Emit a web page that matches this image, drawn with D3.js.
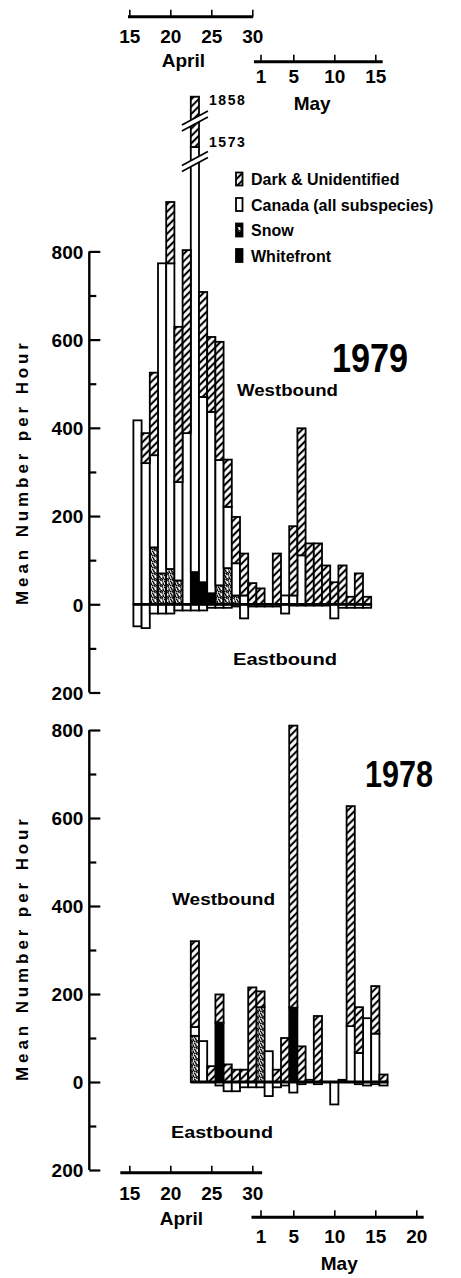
<!DOCTYPE html>
<html>
<head>
<meta charset="utf-8">
<script src="https://cdn.jsdelivr.net/npm/d3@7"></script>
<style>
  html, body { margin: 0; padding: 0; background: #fff; }
  svg { display: block; }
  text { font-family: "Liberation Sans", Arial, sans-serif; font-weight: bold; fill: #000; }
</style>
</head>
<body>
<svg id="chart" width="461" height="1278"></svg>
<script>
// Day index: 0 = 15 April, 16 = 1 May
const days = [1,2,3,4,5,6,7,8,9,10,11,12,13,14,15,16,17,18,19,20,21,22,23,24,25,26,27,28,29,30,31];

// 1979, westbound mean numbers per hour by species group
const whitefront79 = [0,0,0,0,0,0,0,73,50,25,0,0,0,0,0,0,0,0,0,0,0,0,0,0,0,0,0,0,0,0,0];
const snow79       = [0,0,129,70,80,54,0,0,0,0,43,82,20,0,0,0,0,0,0,0,0,0,0,0,0,0,0,0,0,0,0];
const canada79     = [417,320,209,703,693,223,388,1500,420,411,284,139,73,20,0,0,0,0,20,20,111,0,0,0,0,0,0,0,0,0,0];
const dark79       = [0,68,187,0,139,352,415,285,238,170,268,107,105,95,48,36,0,115,0,157,288,138,138,88,50,88,17,70,17,0,0];
// 1979, eastbound (plotted below zero)
const east79       = [-50,-54,-21,-21,-21,-14,-14,-14,-14,-8,-8,-8,-5,-32,-5,-5,-5,-5,-21,-3,-3,-3,-3,-3,-32,-8,-8,-8,-8,0,0];

// 1978, westbound
const whitefront78 = [0,0,0,0,0,0,0,0,0,0,135,0,0,0,0,0,0,0,0,169,0,0,0,0,0,5,0,0,0,0,0];
const snow78       = [0,0,0,0,0,0,0,105,0,0,0,0,0,0,0,170,0,0,0,0,0,0,0,0,0,0,0,0,0,0,0];
const canada78     = [0,0,0,0,0,0,0,20,93,0,0,0,0,0,0,0,70,0,0,0,0,0,0,0,0,0,127,66,145,110,0];
const dark78       = [0,0,0,0,0,0,0,195,0,36,64,40,28,28,215,36,0,28,100,641,81,5,150,0,0,0,500,104,0,108,17];
// 1978, eastbound
const east78       = [0,0,0,0,0,0,0,0,0,0,-8,-21,-21,-12,-12,-12,-32,-12,-8,-24,-5,0,-5,0,-51,0,0,-5,-8,-5,-8];

// Axis ticks
const aprilTicks = [0,5,10,15];
const aprilTickLabels = ["15","20","25","30"];
const mayTicks79 = [16,20,25,30];
const mayTickLabels79 = ["1","5","10","15"];
const mayTicks78 = [16,20,25,30,35];
const mayTickLabels78 = ["1","5","10","15","20"];
const yMajor = [800,600,400,200,0,-200];
const yMajorLabels = ["800","600","400","200","0","200"];
const yMinor = [700,500,300,100,-100];

// Legend
const legendKeys = ["dark","canada","snow","whitefront"];
const legendLabels = ["Dark & Unidentified","Canada (all subspecies)","Snow","Whitefront"];

// Off-scale day in 1979
const peakTotal79 = 1858;
const peakCanada79 = 1573;

const svg = d3.select("#chart");
const defs = svg.append("defs");

const hatch = defs.append("pattern")
  .attr("id", "hatch").attr("patternUnits", "userSpaceOnUse")
  .attr("width", 5.2).attr("height", 5.2)
  .attr("patternTransform", "rotate(45)");
hatch.append("rect").attr("width", 5.2).attr("height", 5.2).attr("fill", "#fff");
hatch.append("line").attr("x1", 2.6).attr("x2", 2.6).attr("y1", 0).attr("y2", 5.2)
  .attr("stroke", "#000").attr("stroke-width", 2.1);

const stipple = defs.append("pattern")
  .attr("id", "stipple").attr("patternUnits", "userSpaceOnUse")
  .attr("width", 6).attr("height", 6);
stipple.append("rect").attr("width", 6).attr("height", 6).attr("fill", "#fff");
[[1,1],[4,1.5],[2.5,3.5],[5,4.5],[0.5,5],[3.5,0.3],[1.5,2.2],[5.3,2.8],[2.8,5.4],[4.2,3.2],[0.3,3.3]].forEach(([cx, cy]) =>
  stipple.append("circle").attr("cx", cx).attr("cy", cy).attr("r", 0.85).attr("fill", "#000"));

const fills = { whitefront: "#000", snow: "url(#stipple)", canada: "#fff", dark: "url(#hatch)" };
const stackKeys = ["whitefront","snow","canada","dark"];

const x = d3.scaleLinear().domain([0, 35]).range([129.3, 416.3]);
const bw = x(1) - x(0);

// 1979 scale has two breaks above 980 to fit the off-scale day
const y79 = d3.scaleLinear()
  .domain([-200, 980, 1545, 1573, 1605, 1835, peakTotal79])
  .range([692.5, 172, 151, 147, 131, 111, 96.7]);
const y78 = d3.scaleLinear().domain([-200, 800]).range([1170, 730]);

function rows(wf, sn, ca, dk, ea) {
  return days.map((d, i) => ({ day: d, whitefront: wf[i], snow: sn[i], canada: ca[i], dark: dk[i], east: ea[i] }));
}

function drawPanel(y, data) {
  const g = svg.append("g");
  // eastbound
  g.selectAll("rect.east").data(data.filter(r => r.east < 0)).join("rect")
    .attr("class", "east")
    .attr("x", r => x(r.day - 0.5)).attr("width", bw)
    .attr("y", y(0)).attr("height", r => y(r.east) - y(0))
    .attr("fill", "#fff").attr("stroke", "#000").attr("stroke-width", 1.8);
  // westbound stacked
  const series = d3.stack().keys(stackKeys)(data);
  series.forEach(s => {
    g.selectAll(null).data(s.filter(p => p[1] > p[0])).join("rect")
      .attr("x", p => x(p.data.day - 0.5)).attr("width", bw)
      .attr("y", p => y(p[1])).attr("height", p => y(p[0]) - y(p[1]))
      .attr("fill", fills[s.key]).attr("stroke", "#000").attr("stroke-width", 1.8);
  });
  // baseline
  const active = data.filter(r => r.whitefront + r.snow + r.canada + r.dark + Math.abs(r.east) > 0);
  g.append("line")
    .attr("x1", x(d3.min(active, r => r.day) - 0.5)).attr("x2", x(d3.max(active, r => r.day) + 0.5))
    .attr("y1", y(0)).attr("y2", y(0))
    .attr("stroke", "#000").attr("stroke-width", 2.8);
  return g;
}

function drawYAxis(y, axisX, titleY) {
  const g = svg.append("g").attr("transform", `translate(${axisX},0)`);
  g.append("line").attr("x1", 0).attr("x2", 0).attr("y1", y(800)).attr("y2", y(-200))
    .attr("stroke", "#000").attr("stroke-width", 2.4);
  const major = g.append("g").call(d3.axisLeft(y).tickValues(yMajor).tickSize(-11).tickPadding(6)
    .tickFormat((d, i) => yMajorLabels[i]));
  major.select(".domain").remove();
  major.selectAll(".tick line").attr("stroke-width", 2.2);
  major.selectAll(".tick text").attr("font-size", 19).attr("font-family", "DejaVu Sans, sans-serif")
    .attr("dy", "0.36em");
  const minor = g.append("g").call(d3.axisLeft(y).tickValues(yMinor).tickSize(-7).tickFormat(""));
  minor.select(".domain").remove();
  minor.selectAll(".tick line").attr("stroke-width", 2.2);
  svg.append("text")
    .attr("transform", `translate(28,${titleY}) rotate(-90)`)
    .attr("text-anchor", "middle").attr("font-size", 17)
    .attr("textLength", 262).attr("lengthAdjust", "spacing")
    .text("Mean Number per Hour");
}

function drawDateAxis(lineY, d0, d1, ticks, labels, monthName, monthX, labelY, monthY) {
  const g = svg.append("g").attr("transform", `translate(0,${lineY})`);
  g.append("line").attr("x1", x(d0)).attr("x2", x(d1)).attr("y1", 0).attr("y2", 0)
    .attr("stroke", "#000").attr("stroke-width", 3);
  const ax = g.append("g").call(d3.axisBottom(x).tickValues(ticks).tickSize(-7).tickPadding(labelY)
    .tickFormat((d, i) => labels[i]));
  ax.select(".domain").remove();
  ax.selectAll(".tick line").attr("stroke-width", 1.6);
  ax.selectAll(".tick text").attr("font-size", 19).attr("font-family", null).attr("dy", 0)
    .attr("dominant-baseline", "alphabetic");
  g.append("text").attr("x", monthX).attr("y", monthY).attr("text-anchor", "middle")
    .attr("font-size", 19).text(monthName);
}

// ---------- 1979 ----------
drawDateAxis(16.7, -0.16, 15.1, aprilTicks, aprilTickLabels, "April", x(6.6), 26, 50);
drawDateAxis(61.7, 15.2, 30.9, mayTicks79, mayTickLabels79, "May", x(22.3), 21.5, 48);

drawPanel(y79, rows(whitefront79, snow79, canada79, dark79, east79));

// breaks on the off-scale bar
const peakDay = days[canada79.indexOf(d3.max(canada79))];
[1720, 1262].forEach(v => {
  const cx = x(peakDay), cy = y79(v);
  const gap = 3;
  svg.append("polygon")
    .attr("points", [[cx - 13, cy + 7 - gap], [cx + 13, cy - 7 - gap], [cx + 13, cy - 7 + gap], [cx - 13, cy + 7 + gap]].join(" "))
    .attr("fill", "#fff");
  [-gap, gap].forEach(o => svg.append("line")
    .attr("x1", cx - 13).attr("y1", cy + 7 + o).attr("x2", cx + 13).attr("y2", cy - 7 + o)
    .attr("stroke", "#000").attr("stroke-width", 1.8));
});
svg.append("text").attr("x", x(peakDay) + 14).attr("y", y79(peakTotal79) + 8)
  .attr("font-size", 14).attr("font-weight", "normal").attr("textLength", 36).text(String(peakTotal79));
svg.append("text").attr("x", x(peakDay) + 14).attr("y", y79(peakCanada79))
  .attr("font-size", 14).attr("font-weight", "normal").attr("textLength", 36).text(String(peakCanada79));

drawYAxis(y79, 89.3, 474);

// legend
const lg = svg.append("g");
legendKeys.forEach((k, i) => {
  const cy = 179 + i * 25.5;
  lg.append("rect").attr("x", 236).attr("y", cy - 6.5).attr("width", 6.5).attr("height", 13)
    .attr("fill", k === "snow" ? "#000" : fills[k]).attr("stroke", "#000").attr("stroke-width", 1.8);
  if (k === "snow") {
    lg.append("rect").attr("x", 237.8).attr("y", cy - 3).attr("width", 3).attr("height", 5).attr("fill", "url(#stipple)");
  }
  lg.append("text").attr("x", 251).attr("y", cy + 6).attr("font-size", 16).text(legendLabels[i]);
});

svg.append("text").attr("x", 332).attr("y", 372).attr("font-size", 40).attr("font-weight", "normal")
  .attr("textLength", 76).attr("lengthAdjust", "spacingAndGlyphs").text("1979");
svg.append("text").attr("x", 237).attr("y", 396).attr("font-size", 17)
  .attr("textLength", 101).attr("lengthAdjust", "spacingAndGlyphs").text("Westbound");
svg.append("text").attr("x", 233).attr("y", 665).attr("font-size", 17)
  .attr("textLength", 104).attr("lengthAdjust", "spacingAndGlyphs").text("Eastbound");

// ---------- 1978 ----------
drawPanel(y78, rows(whitefront78, snow78, canada78, dark78, east78));
drawYAxis(y78, 89.3, 950);

svg.append("text").attr("x", 365).attr("y", 787).attr("font-size", 37).attr("font-weight", "normal")
  .attr("textLength", 68).attr("lengthAdjust", "spacingAndGlyphs").text("1978");
svg.append("text").attr("x", 172).attr("y", 905).attr("font-size", 17)
  .attr("textLength", 103).attr("lengthAdjust", "spacingAndGlyphs").text("Westbound");
svg.append("text").attr("x", 171).attr("y", 1138).attr("font-size", 17)
  .attr("textLength", 102).attr("lengthAdjust", "spacingAndGlyphs").text("Eastbound");

drawDateAxis(1172.7, -1.1, 16.2, aprilTicks, aprilTickLabels, "April", x(6.35), 27, 52);
drawDateAxis(1217.3, 14.9, 35.9, mayTicks78, mayTickLabels78, "May", x(25.6), 26, 53);
</script>
</body>
</html>
